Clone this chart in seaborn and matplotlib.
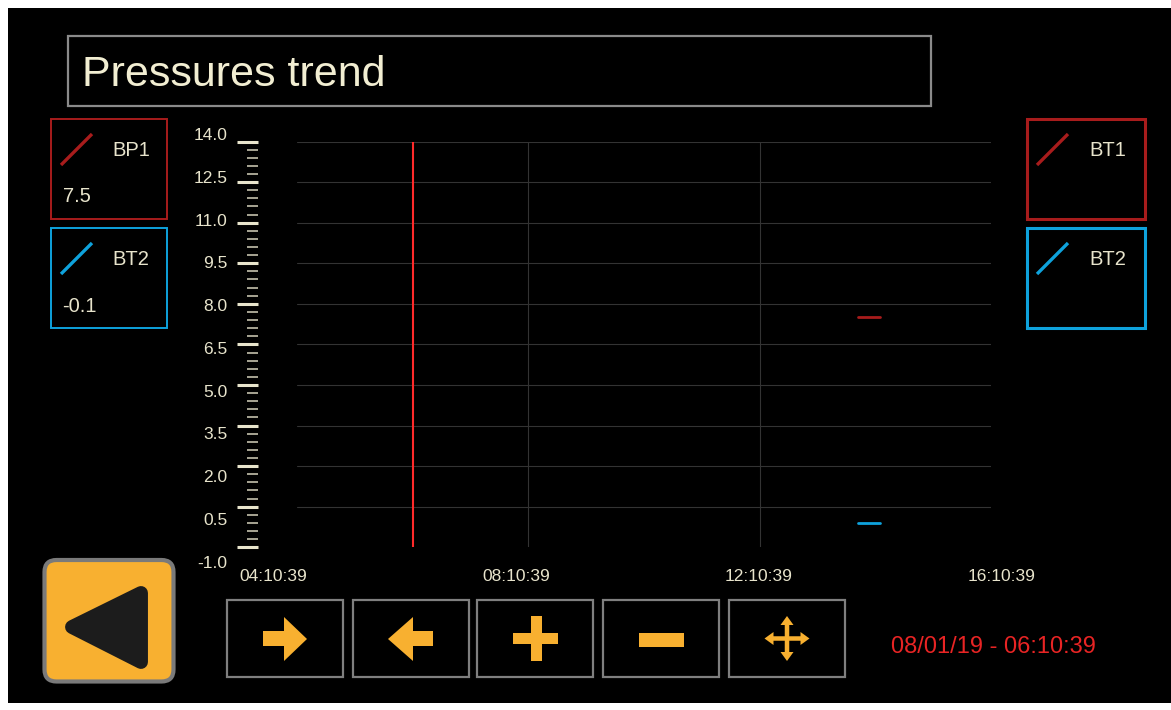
import numpy as np
import pandas as pd
import matplotlib
matplotlib.use("Agg")
import matplotlib.pyplot as plt
import seaborn as sns
from matplotlib.patches import Rectangle, FancyBboxPatch, Polygon, FancyArrow
from matplotlib.ticker import FixedLocator

# --- data ---
title = "Pressures trend"
time_ticks = ["04:10:39", "08:10:39", "12:10:39", "16:10:39"]
y_ticks = [-1.0, 0.5, 2.0, 3.5, 5.0, 6.5, 8.0, 9.5, 11.0, 12.5, 14.0]
cursor_time = "06:10:39"
cursor_date = "08/01/19"

seg_times = ["13:52:20", "14:15:50"]
bp1_values = [7.5, 7.5]
bt2_values = [-0.1, -0.1]

left_tags = ["BP1", "BT2"]
left_readouts = ["7.5", "-0.1"]
right_tags = ["BT1", "BT2"]

RED = "#a81c1c"
BLUE = "#0ea2dc"
CREAM = "#e8e4cc"
GREY = "#7f7f7f"
ORANGE = "#f8b030"


def to_hours(s):
    h, m, sec = [int(v) for v in s.split(":")]
    return h + m / 60 + sec / 3600


tick_h = [to_hours(t) for t in time_ticks]
df = pd.DataFrame({
    "hours": [to_hours(t) for t in seg_times] * 2,
    "value": bp1_values + bt2_values,
    "tag": ["BP1"] * len(bp1_values) + ["BT2"] * len(bt2_values),
})

sns.set_theme(style="dark")
plt.rcParams["font.family"] = ["Liberation Sans", "DejaVu Sans"]

W, H = 1171, 710
fig = plt.figure(figsize=(W / 100, H / 100), dpi=100, facecolor="white")


def fx(px):
    return px / W


def fy(py):
    return (H - py) / H


# full-screen layer for the HMI panel, in pixel coords
ui = fig.add_axes([0, 0, 1, 1], zorder=0)
ui.set_xlim(0, W)
ui.set_ylim(H, 0)
ui.axis("off")
ui.add_patch(Rectangle((8, 8), W - 8, 695, facecolor="black", edgecolor="none"))

# --- trend plot ---
ax = fig.add_axes([fx(297), fy(547.3), fx(991 - 297), (547.3 - 141.5) / H], zorder=2)
ax.set_facecolor("none")
sns.lineplot(data=df, x="hours", y="value", hue="tag",
             palette={"BP1": RED, "BT2": BLUE}, linewidth=2,
             legend=False, ax=ax)
ax.axvline(to_hours(cursor_time), color="#ff2a2a", lw=1.5)
ax.set_xlim(tick_h[0], tick_h[-1])
ax.set_ylim(y_ticks[0], y_ticks[-1])
ax.set_xlabel("")
ax.set_ylabel("")
for s in ax.spines.values():
    s.set_visible(False)
ax.spines["left"].set_position(("outward", 28))

ax.set_xticks(tick_h[1:-1])
ax.tick_params(axis="x", length=0, labelbottom=False)
ax.yaxis.set_major_locator(FixedLocator(y_ticks))
ax.yaxis.set_minor_locator(FixedLocator(np.linspace(y_ticks[0], y_ticks[-1], 51)))
ax.tick_params(axis="y", which="major", direction="out", length=15, width=2.2,
               color=CREAM, left=True, labelleft=False)
ax.tick_params(axis="y", which="minor", direction="out", length=7.8, width=1.4,
               color="#a8a594", left=True)
ax.grid(True, which="major", color="#333333", lw=0.8)
ax.yaxis.get_gridlines()[0].set_visible(False)

# labels sit on their own slightly wider scale, like the panel does
lab = fig.add_axes([fx(273), fy(561.7), fx(1002 - 273), (561.7 - 134) / H], zorder=1)
lab.set_facecolor("none")
lab.set_xlim(tick_h[0], tick_h[-1])
lab.set_ylim(y_ticks[0], y_ticks[-1])
lab.set_xticks(tick_h)
lab.set_xticklabels(time_ticks)
lab.set_yticks(y_ticks)
lab.set_yticklabels([f"{v:.1f}" for v in y_ticks])
lab.tick_params(axis="both", length=0, colors=CREAM, labelsize=12.5)
lab.tick_params(axis="y", pad=33)
lab.tick_params(axis="x", pad=5)
lab.grid(False)
for s in lab.spines.values():
    s.set_visible(False)

# --- title box ---
ui.add_patch(Rectangle((68, 36), 931 - 68, 106 - 36, fill=False, edgecolor="#8a8a8a", lw=1.6))
ui.text(82, 86, title, color="#f2eed2", fontsize=31, va="baseline", ha="left")


# --- tag boxes ---
def tag_box(x0, x1, y0, y1, color, tag, tx, readout=None, lw=1.4):
    ui.add_patch(Rectangle((x0, y0), x1 - x0, y1 - y0, fill=False, edgecolor=color, lw=lw))
    ui.plot([x0 + 10, x0 + 41], [y0 + 46, y0 + 15], color=color, lw=2.4, solid_capstyle="butt")
    ui.text(tx, y0 + 37, tag, color=CREAM, fontsize=14.5, va="baseline")
    if readout is not None:
        ui.text(x0 + 11.5, y0 + 83.5, readout, color=CREAM, fontsize=14.5, va="baseline")


box_colors = [RED, BLUE]
for i, (tag, val) in enumerate(zip(left_tags, left_readouts)):
    y0 = 119 + i * 109
    tag_box(51, 167, y0, y0 + 100, box_colors[i], tag, 112.7, val)
for i, tag in enumerate(right_tags):
    y0 = 119 + i * 109
    tag_box(1027, 1145, y0, y0 + 100, box_colors[i], tag, 1089, lw=2.2)

# --- back button ---
ui.add_patch(FancyBboxPatch((44.5, 560), 129, 121.5, boxstyle="round,pad=0,rounding_size=12",
                            facecolor=ORANGE, edgecolor="#7a7a7a", lw=3))
ui.add_patch(Polygon([(72, 627), (141, 593), (141, 662)], closed=True, facecolor="#1c1c1c",
                     edgecolor="#1c1c1c", lw=10, joinstyle="round"))

# --- navigation buttons ---
for bx in [227, 353, 477, 603, 729]:
    ui.add_patch(Rectangle((bx, 600), 116, 77, fill=False, edgecolor=GREY, lw=1.6))

ui.add_patch(Polygon([(263, 631), (284, 631), (284, 617), (307, 639), (284, 661), (284, 646), (263, 646)],
                     facecolor=ORANGE, edgecolor="none"))
ui.add_patch(Polygon([(433, 631), (413, 631), (413, 617), (388, 639), (413, 661), (413, 646), (433, 646)],
                     facecolor=ORANGE, edgecolor="none"))
ui.add_patch(Rectangle((530.7, 616), 11, 44.7, facecolor=ORANGE, edgecolor="none"))
ui.add_patch(Rectangle((513.3, 632.7), 45, 11.3, facecolor=ORANGE, edgecolor="none"))
ui.add_patch(Rectangle((639.3, 632.7), 44.7, 14, facecolor=ORANGE, edgecolor="none"))
cx, cy = 787, 638.5
for dx, dy in [(22.5, 0), (-22.5, 0), (0, 22.5), (0, -22.5)]:
    ui.add_patch(FancyArrow(cx, cy, dx, dy, width=4.5, head_width=13, head_length=9,
                            length_includes_head=True, facecolor=ORANGE, edgecolor="none"))

ui.text(993.7, 653, f"{cursor_date} - {cursor_time}", color="#e82424", fontsize=17,
        ha="center", va="baseline")

fig.savefig("out.png", dpi=100, facecolor="white")
